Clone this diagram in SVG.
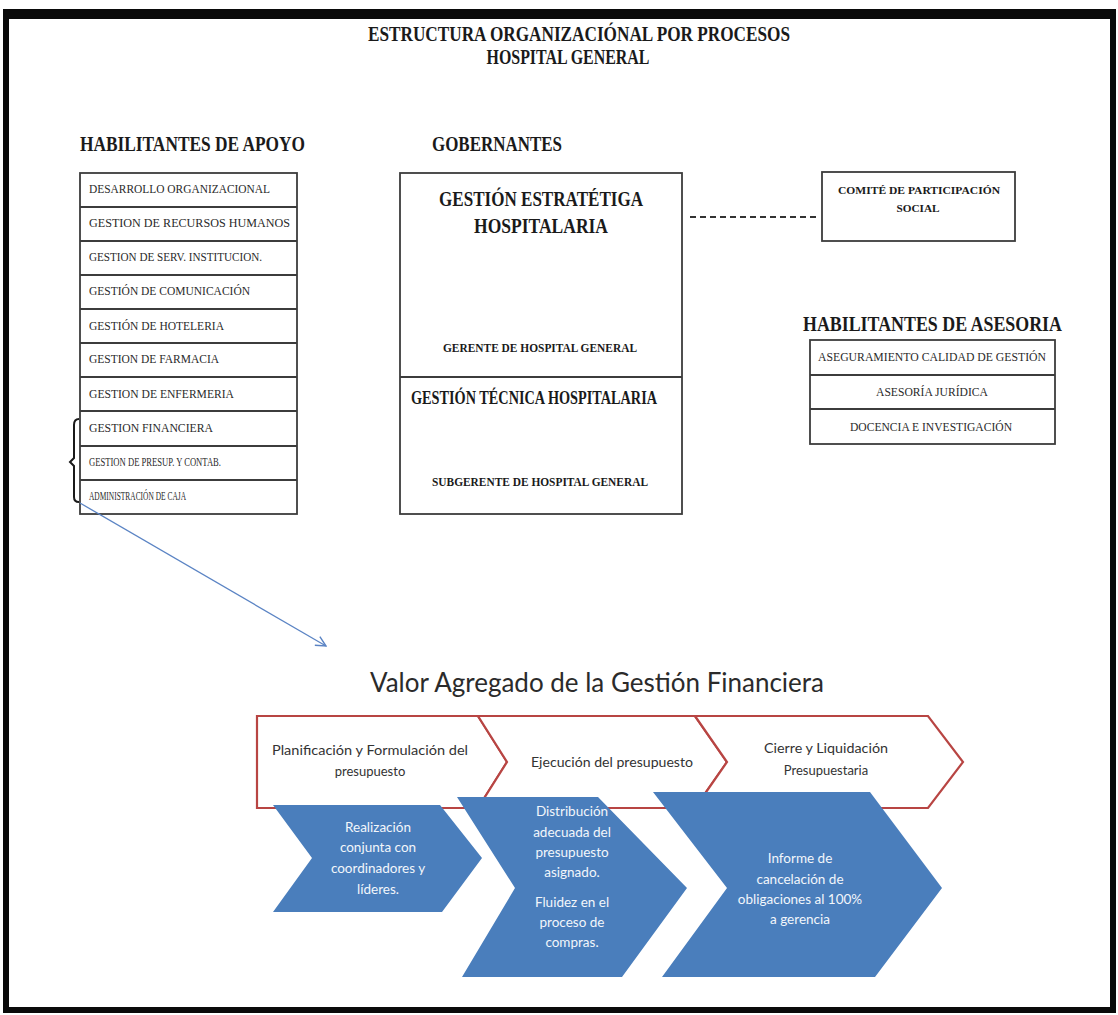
<svg xmlns="http://www.w3.org/2000/svg" width="1118" height="1015" viewBox="0 0 1118 1015">
  <defs>
    <style>
      .hdr { font-family: "Liberation Serif", "Times New Roman", serif; font-weight: bold; fill: #1a1a1a; }
      .row { font-family: "Liberation Serif", "Times New Roman", serif; fill: #2a2a2a; font-size: 12px; }
      .box { fill: #ffffff; stroke: #3c3c3c; stroke-width: 1.8; }
      .div { stroke: #3c3c3c; stroke-width: 1.8; }
      .red { fill: #ffffff; stroke: #b84543; stroke-width: 2.2; stroke-linejoin: miter; }
      .blue { fill: #4a7ebc; }
      .lbl { font-family: "Lato", "Open Sans", sans-serif; fill: #333333; font-size: 13px; }
      .wht { font-family: "Lato", "Open Sans", sans-serif; fill: #f2f6fb; font-size: 13.5px; text-anchor: middle; }
    </style>
    <marker id="openArrow" viewBox="0 0 12 12" refX="11" refY="6" markerWidth="12" markerHeight="12" markerUnits="userSpaceOnUse" orient="auto">
      <path d="M1,1 L11,6 L1,11" fill="none" stroke="#5b84c4" stroke-width="1.4"/>
    </marker>
  </defs>

  <rect width="1118" height="1015" fill="#ffffff"/>

  <!-- page frame -->
  <g id="frame" fill="#0a0a0a">
    <rect x="3" y="9" width="1113" height="10"/>
    <rect x="3" y="9" width="6" height="1004"/>
    <rect x="1110" y="9" width="6" height="1004"/>
    <rect x="3" y="1007" width="1113" height="6"/>
  </g>

  <!-- headings -->
  <g id="title">
    <text class="hdr" x="579" y="41" font-size="21" text-anchor="middle" textLength="422" lengthAdjust="spacingAndGlyphs">ESTRUCTURA ORGANIZACIÓNAL POR PROCESOS</text>
    <text class="hdr" x="568" y="64" font-size="21" text-anchor="middle" textLength="163" lengthAdjust="spacingAndGlyphs">HOSPITAL GENERAL</text>
  </g>
  <g id="section-heads">
    <text class="hdr" x="80" y="151" font-size="20" textLength="225" lengthAdjust="spacingAndGlyphs">HABILITANTES DE APOYO</text>
    <text class="hdr" x="432" y="151" font-size="20" textLength="130" lengthAdjust="spacingAndGlyphs">GOBERNANTES</text>
    <text class="hdr" x="803" y="331" font-size="20" textLength="259" lengthAdjust="spacingAndGlyphs">HABILITANTES DE ASESORIA</text>
  </g>

  <!-- support processes list -->
  <g id="apoyo">
    <rect class="box" x="80" y="173" width="217" height="341"/>
    <line class="div" x1="80" y1="207" x2="297" y2="207"/>
    <line class="div" x1="80" y1="241" x2="297" y2="241"/>
    <line class="div" x1="80" y1="275" x2="297" y2="275"/>
    <line class="div" x1="80" y1="309" x2="297" y2="309"/>
    <line class="div" x1="80" y1="343" x2="297" y2="343"/>
    <line class="div" x1="80" y1="377" x2="297" y2="377"/>
    <line class="div" x1="80" y1="411" x2="297" y2="411"/>
    <line class="div" x1="80" y1="446" x2="297" y2="446"/>
    <line class="div" x1="80" y1="480" x2="297" y2="480"/>
    <text class="row" x="89" y="193" textLength="181" lengthAdjust="spacingAndGlyphs">DESARROLLO ORGANIZACIONAL</text>
    <text class="row" x="89" y="227" textLength="201" lengthAdjust="spacingAndGlyphs">GESTION DE RECURSOS HUMANOS</text>
    <text class="row" x="89" y="261" textLength="173" lengthAdjust="spacingAndGlyphs">GESTION DE SERV. INSTITUCION.</text>
    <text class="row" x="89" y="295" textLength="161" lengthAdjust="spacingAndGlyphs">GESTIÓN DE COMUNICACIÓN</text>
    <text class="row" x="89" y="330" textLength="135" lengthAdjust="spacingAndGlyphs">GESTIÓN DE HOTELERIA</text>
    <text class="row" x="89" y="363" textLength="130" lengthAdjust="spacingAndGlyphs">GESTION DE FARMACIA</text>
    <text class="row" x="89" y="398" textLength="145" lengthAdjust="spacingAndGlyphs">GESTION DE ENFERMERIA</text>
    <text class="row" x="89" y="432" textLength="124" lengthAdjust="spacingAndGlyphs">GESTION FINANCIERA</text>
    <text class="row" x="89" y="466" font-size="9" textLength="132" lengthAdjust="spacingAndGlyphs">GESTION DE PRESUP. Y CONTAB.</text>
    <text class="row" x="89" y="500" font-size="9" textLength="97" lengthAdjust="spacingAndGlyphs">ADMINISTRACIÓN DE CAJA</text>
  </g>

  <!-- governing processes -->
  <g id="gobernantes">
    <rect class="box" x="400" y="173" width="282" height="341"/>
    <line class="div" x1="400" y1="377" x2="682" y2="377"/>
    <text class="hdr" x="541" y="206" font-size="22" text-anchor="middle" textLength="204" lengthAdjust="spacingAndGlyphs">GESTIÓN ESTRATÉTIGA</text>
    <text class="hdr" x="541" y="233" font-size="22" text-anchor="middle" textLength="134" lengthAdjust="spacingAndGlyphs">HOSPITALARIA</text>
    <text class="hdr" x="540" y="352" font-size="11.5" text-anchor="middle" textLength="194" lengthAdjust="spacingAndGlyphs">GERENTE DE HOSPITAL GENERAL</text>
    <text class="hdr" x="534" y="404" font-size="18" text-anchor="middle" textLength="246" lengthAdjust="spacingAndGlyphs">GESTIÓN TÉCNICA HOSPITALARIA</text>
    <text class="hdr" x="540" y="486" font-size="11.5" text-anchor="middle" textLength="216" lengthAdjust="spacingAndGlyphs">SUBGERENTE DE HOSPITAL GENERAL</text>
  </g>

  <!-- social participation committee -->
  <g id="comite">
    <rect class="box" x="822" y="172" width="193" height="69"/>
    <text class="hdr" x="919" y="194" font-size="11" text-anchor="middle" textLength="162" lengthAdjust="spacingAndGlyphs">COMITÉ DE PARTICIPACIÓN</text>
    <text class="hdr" x="918" y="212" font-size="11" text-anchor="middle" textLength="43" lengthAdjust="spacingAndGlyphs">SOCIAL</text>
  </g>

  <!-- advisory processes -->
  <g id="asesoria">
    <rect class="box" x="810" y="340" width="245" height="104"/>
    <line class="div" x1="810" y1="375" x2="1055" y2="375"/>
    <line class="div" x1="810" y1="409" x2="1055" y2="409"/>
    <text class="row" x="932" y="361" text-anchor="middle" textLength="228" lengthAdjust="spacingAndGlyphs">ASEGURAMIENTO CALIDAD DE GESTIÓN</text>
    <text class="row" x="932" y="396" text-anchor="middle" textLength="112" lengthAdjust="spacingAndGlyphs">ASESORÍA JURÍDICA</text>
    <text class="row" x="931" y="431" text-anchor="middle" textLength="162" lengthAdjust="spacingAndGlyphs">DOCENCIA E INVESTIGACIÓN</text>
  </g>

  <!-- connectors -->
  <g id="connectors" fill="none">
    <line x1="690" y1="217" x2="820" y2="217" stroke="#333333" stroke-width="2" stroke-dasharray="6,4"/>
    <path d="M79,419 Q74,419 74,425 L74,458 L70,462 L74,466 L74,497 Q74,502 79,502" stroke="#1a1a1a" stroke-width="2"/>
    <line x1="80" y1="503" x2="326" y2="646" stroke="#5b84c4" stroke-width="1.3" marker-end="url(#openArrow)"/>
  </g>

  <!-- value-added process flow -->
  <g id="valor-agregado">
    <text x="597" y="692" font-family="Lato, 'Open Sans', sans-serif" font-size="27" fill="#2b2b2b" text-anchor="middle" textLength="454" lengthAdjust="spacingAndGlyphs">Valor Agregado de la Gestión Financiera</text>
  </g>

  <g id="fase-planificacion">
    <path class="red" d="M257,716 L478,716 L507,762 L478,808 L257,808 Z"/>
    <text class="lbl" x="370" y="755" text-anchor="middle" textLength="196" lengthAdjust="spacingAndGlyphs">Planificación y Formulación del</text>
    <text class="lbl" x="370" y="776" text-anchor="middle">presupuesto</text>
  </g>
  <g id="fase-ejecucion">
    <path class="red" d="M478,716 L695,716 L727,762 L695,808 L478,808 L507,762 Z"/>
    <text class="lbl" x="612" y="767" text-anchor="middle" textLength="162" lengthAdjust="spacingAndGlyphs">Ejecución del presupuesto</text>
  </g>
  <g id="fase-cierre">
    <path class="red" d="M695,716 L928,716 L963,762 L928,808 L695,808 L727,762 Z"/>
    <text class="lbl" x="826" y="753" text-anchor="middle" textLength="124" lengthAdjust="spacingAndGlyphs">Cierre y Liquidación</text>
    <text class="lbl" x="826" y="775" text-anchor="middle">Presupuestaria</text>
  </g>

  <g id="valor-planificacion">
    <path class="blue" d="M273,805 L440,805 L482,858 L442,912 L273,912 L312,858 Z"/>
    <text class="wht" x="378" y="832">Realización</text>
    <text class="wht" x="378" y="852">conjunta con</text>
    <text class="wht" x="378" y="873">coordinadores y</text>
    <text class="wht" x="378" y="894">líderes.</text>
  </g>
  <g id="valor-ejecucion">
    <path class="blue" d="M457,797 L598,797 L687,888 L622,977 L462,977 L515,888 Z"/>
    <text class="wht" x="572" y="816">Distribución</text>
    <text class="wht" x="572" y="837">adecuada del</text>
    <text class="wht" x="572" y="857">presupuesto</text>
    <text class="wht" x="572" y="877">asignado.</text>
    <text class="wht" x="572" y="907">Fluidez en el</text>
    <text class="wht" x="572" y="927">proceso de</text>
    <text class="wht" x="572" y="947">compras.</text>
  </g>
  <g id="valor-cierre">
    <path class="blue" d="M653,792 L870,792 L942,888 L875,977 L662,977 L727,888 Z"/>
    <text class="wht" x="800" y="863">Informe de</text>
    <text class="wht" x="800" y="884">cancelación de</text>
    <text class="wht" x="800" y="904">obligaciones al 100%</text>
    <text class="wht" x="800" y="924">a gerencia</text>
  </g>
</svg>
